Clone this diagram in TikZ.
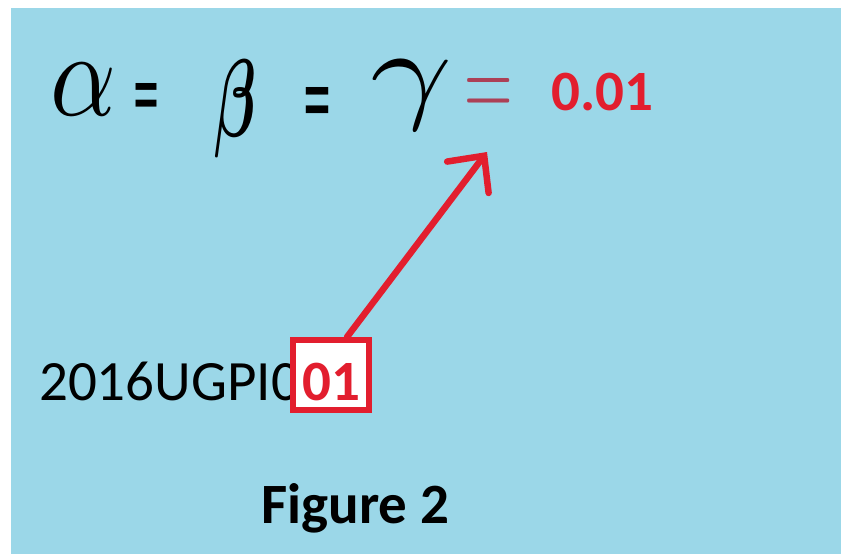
\documentclass[tikz,border=0pt]{standalone}
\usepackage{amsmath}
\usepackage{fontspec}
\setmainfont{Carlito}
\newfontfamily\handfont{DejaVu Sans}
\newfontfamily\thinfont{Latin Modern Roman}
\usetikzlibrary{arrows.meta,positioning}

\definecolor{skyblue}{RGB}{155,215,232}
\definecolor{markred}{RGB}{226,30,46}
\definecolor{thinred}{RGB}{172,64,86}

\begin{document}
\begin{tikzpicture}[x=1pt, y=-1pt,
    every node/.style={inner sep=0pt},
    hand/.style={font=\handfont},
    plain/.style={font=\fontsize{57}{57}\selectfont},
    heavy/.style={font=\fontsize{57}{57}\selectfont\bfseries},
    redbox/.style={draw=markred, line width=6pt, fill=white, text=markred,
      minimum width=76pt, text height=60pt, text depth=10pt},
    pointer/.style={draw=markred, line width=6.5pt, line cap=round,
      -{Straight Barb[length=27pt, width=52pt, line cap=round]}}]
  % page and background
  \useasboundingbox (0,0) rectangle (841,554);
  \fill[white] (0,0) rectangle (841,554);
  \fill[skyblue] (11,8) rectangle (841,554);

  % hand written line
  \node (alpha) at (84,89) {\resizebox{66pt}{52pt}{$\alpha$}};
  \node[hand, anchor=north] (eqa) at (146,83) {\resizebox{28pt}{38pt}{=}};
  \node (beta) at (236,109) {\resizebox*{42pt}{98pt}{$\boldsymbol{\beta}$}};
  \node[hand, anchor=north] (eqb) at (317,87) {\resizebox{30pt}{42pt}{=}};
  \node (gamma) at (412,95) {\resizebox*{82pt}{70pt}{$\gamma$}};
  \node[text=thinred] (eqc) at (489,99) {\scalebox{1.05}[1.8]{\fontsize{64}{64}\thinfont =}};
  \node[heavy, text=markred, anchor=base west] (value) at (551,110) {0.01};

  % roll number
  \node[plain, anchor=base west] (roll) at (39,400) {2016UGPI0};
  \node[heavy, redbox, anchor=base] (ubox) at (331,400) {01};
  \coordinate (tip) at (487,152);
  \draw[pointer] ([xshift=16pt]ubox.north) -- (tip);

  \node[heavy, anchor=base west] (caption) at (261,523) {Figure 2};
\end{tikzpicture}
\end{document}
